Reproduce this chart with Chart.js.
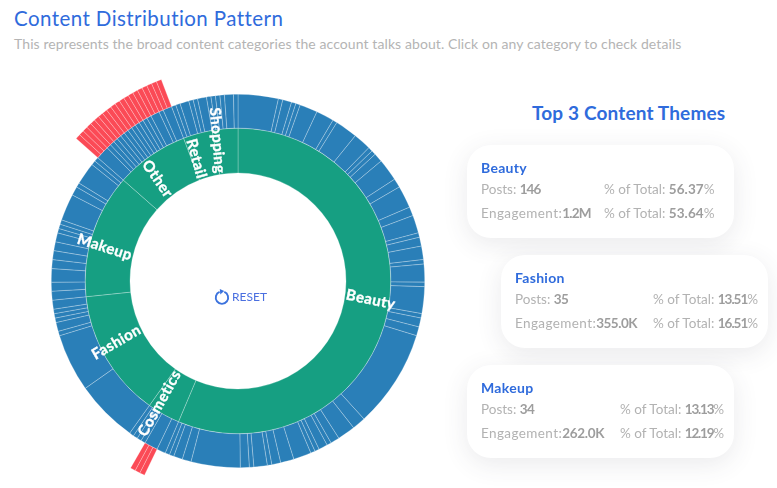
<!DOCTYPE html>
<html>
<head>
<meta charset="utf-8">
<script src="https://cdn.jsdelivr.net/npm/chart.js@4/dist/chart.umd.min.js"></script>
<style>
html,body{margin:0;padding:0;background:#fff;width:777px;height:488px;overflow:hidden;font-family:Lato,sans-serif}
.abs{position:absolute;white-space:nowrap;line-height:1}
#title{left:14px;top:8px;font-size:20.5px;color:#2f6bdc;letter-spacing:.43px}
#sub{left:14px;top:37px;font-size:14px;color:#b4b4b4;letter-spacing:.09px}
#chartBox{position:absolute;left:0;top:65px;width:476px;height:432px}
#top3{left:532px;top:103px;font-size:19px;color:#2f6bdc;font-weight:700;letter-spacing:.15px}
#reset{left:232px;top:291px;font-size:12px;color:#4a6fe0;letter-spacing:0}
#icon{position:absolute;left:213px;top:288px;width:18px;height:18px}
.card{position:absolute;width:267px;height:93px;background:#fff;border-radius:24px;box-shadow:0 6px 26px rgba(60,60,80,.11)}
.card div{position:absolute;white-space:nowrap;line-height:1;font-size:13.5px;color:#b2b2b2}
.card b{color:#9d9d9d;font-weight:700}
.card .name{left:14px;top:16px;color:#2f6bdc;font-weight:700;font-size:14px;letter-spacing:.3px}
.card .eng{letter-spacing:.4px}
</style>
</head>
<body>
<div id="title" class="abs">Content Distribution Pattern</div>
<div id="sub" class="abs">This represents the broad content categories the account talks about. Click on any category to check details</div>
<div id="chartBox"><canvas id="c" width="476" height="432"></canvas></div>
<svg id="icon" viewBox="0 0 18 18" fill="none"><path d="M6.6 3.9 A6.2 6.2 0 1 0 11.3 3.9" stroke="#3b72dd" stroke-width="1.9"/><path d="M5.8 1 L10.2 3 L6.3 6.4 Z" fill="#3b72dd" transform="translate(1 0)"/></svg>
<div id="reset" class="abs">RESET</div>
<div id="top3" class="abs">Top 3 Content Themes</div>
<script>
// inner ring: number of posts per content category
const categories = ["Beauty","Cosmetics","Fashion","Makeup","Other","Retail","Shopping"];
const categoryPosts = [146,9,35,34,20,8,7];
// middle ring: number of posts per sub-theme, in the same angular order
const subThemePosts = [9,1,2,1,1,4,4,1,5,4,1,1,2,5,2,5,2,4,1,2,3,1,4,1,6,1,2,2,22,3,4,2,1,2,1,1,4,3,2,1,3,1,2,11,2,2,1,1,
  2,3,1,1,1,1,
  14,13,1,2,1,1,1,2,
  2,2,3,2,2,2,2,1,1,1,6,2,1,5,1,1,
  3,1,1,1,1,1,1,1,1,1,1,1,1,2,1,2,
  1,1,2,1,1,2,1,1,1,1,2,1];
// outer ring: single posts drilled down; the entries listed in outerGapIndex are empty spans
const outerPosts = [148,1,1,1,73,1,1,1,1,1,1,1,1,1,1,1,1,1,1,1,1,1,1,1,1,15];
const outerGapIndex = [0,4,25];
// cards
const cardThemes = ["Beauty","Fashion","Makeup"];
const cardPosts = ["146","35","34"];
const cardPostShare = ["56.37%","13.51%","13.13%"];
const cardEngagement = ["1.2M","355.0K","262.0K"];
const cardEngagementShare = ["53.64%","16.51%","12.19%"];

const cardBox = [[467,145,137],[501,255,152],[467,365,153]];
const pctTrack = [0.1,-1,-1.2], engTrack = [-0.8,-0.5,-0.3], postTrack = [-1,-0.5,-0.5];
cardThemes.forEach((t,i)=>{
  const [l,tp,col]=cardBox[i];
  const d=document.createElement('div');d.className='card';d.style.left=l+'px';d.style.top=tp+'px';
  d.innerHTML=`<div class="name">${t}</div>
  <div style="left:14px;top:38px">Posts: <b style="letter-spacing:${postTrack[i]}px">${cardPosts[i]}</b></div>
  <div style="left:${col}px;top:38px">% of Total: <b style="letter-spacing:${pctTrack[i]}px">${cardPostShare[i].slice(0,-1)}</b>%</div>
  <div class="eng" style="left:14px;top:62px">Engagement:<b style="letter-spacing:${engTrack[i]}px">${cardEngagement[i]}</b></div>
  <div style="left:${col}px;top:62px">% of Total: <b style="letter-spacing:${pctTrack[i]}px">${cardEngagementShare[i].slice(0,-1)}</b>%</div>`;
  document.body.appendChild(d);
});

const INNER=108;
const labelPlugin={
  id:'ringLabels',
  afterDatasetsDraw(chart){
    const ctx=chart.ctx, meta=chart.getDatasetMeta(2);
    ctx.save();
    ctx.font='700 15px Lato, sans-serif';
    ctx.letterSpacing='0.45px';
    ctx.fillStyle='#fff';ctx.strokeStyle='#fff';ctx.lineWidth=.35;
    ctx.textAlign='center';ctx.textBaseline='middle';
    meta.data.forEach((arc,i)=>{
      const p=arc.getProps(['startAngle','endAngle','x','y'],true);
      let deg=((p.startAngle+p.endAngle)/2+Math.PI/2)*180/Math.PI; // clockwise from top
      const w=ctx.measureText(categories[i]).width;
      const r=INNER+1+w/2;
      const nudge=(deg>180&&deg<270)?3.5:-3.5;
      const a=(deg+nudge-90)*Math.PI/180;
      const rot=(deg<180?deg-90:deg-270)*Math.PI/180;
      ctx.save();
      ctx.translate(p.x+r*Math.cos(a),p.y+r*Math.sin(a));
      ctx.rotate(rot);
      ctx.fillText(categories[i],0,0);
      ctx.strokeText(categories[i],0,0);
      ctx.restore();
    });
    ctx.restore();
  }
};
const line='rgba(255,255,255,.32)';
new Chart(document.getElementById('c'),{
  type:'doughnut',
  plugins:[labelPlugin],
  data:{
    labels:categories,
    datasets:[
      {data:outerPosts,weight:29,
       backgroundColor:c=>outerGapIndex.includes(c.dataIndex)?'rgba(0,0,0,0)':'#fb4a56',
       borderColor:c=>outerGapIndex.includes(c.dataIndex)?'rgba(0,0,0,0)':line,
       borderWidth:.8},
      {data:subThemePosts,backgroundColor:'#2a7fb8',borderColor:line,borderWidth:.8,weight:34},
      {data:categoryPosts,backgroundColor:'#169f82',borderColor:line,borderWidth:.8,weight:45}
    ]
  },
  options:{
    responsive:false,animation:false,cutout:INNER,
    layout:{padding:0},
    hoverOffset:0,hoverBorderWidth:0,
    plugins:{legend:{display:false},tooltip:{enabled:false},title:{display:false}},
    events:[]
  }
});
</script>
</body>
</html>
